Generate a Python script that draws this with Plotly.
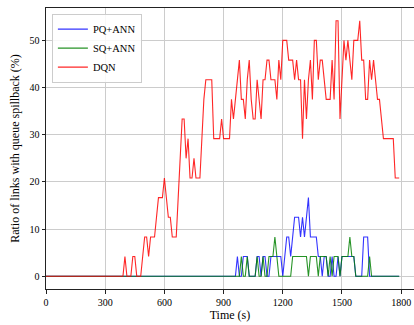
import plotly.graph_objects as go

# time grid (s)
time_s = list(range(0, 1800, 10))

# Ratio of links with queue spillback (%)
dqn = [0.0] * 40 + [
    4.17, 0, 0, 0, 4.17, 4.17, 0, 0, 0, 4.17,                       # 400-490
    8.33, 8.33, 4.17, 8.33, 8.33, 8.33, 12.5, 16.67, 16.67, 16.67,   # 500-590
    20.83, 16.67, 12.5, 12.5, 8.33, 8.33, 8.33, 16.67, 25, 33.33,    # 600-690
    33.33, 25, 29.17, 20.83, 20.83, 25, 20.83, 20.83, 20.83, 29.17,  # 700-790
    37.5, 41.67, 41.67, 41.67, 41.67, 29.17, 29.17, 29.17, 29.17, 33.33,  # 800-890
    29.17, 29.17, 29.17, 29.17, 37.5, 33.33, 37.5, 41.67, 45.83, 37.5,    # 900-990
    37.5, 33.33, 41.67, 45.83, 37.5, 33.33, 33.33, 41.67, 37.5, 33.33,    # 1000-1090
    41.67, 41.67, 45.83, 45.83, 41.67, 41.67, 41.67, 37.5, 45.83, 41.67,  # 1100-1190
    50, 50, 50, 45.83, 45.83, 45.83, 41.67, 45.83, 41.67, 41.67,          # 1200-1290
    29.17, 41.67, 33.33, 41.67, 45.83, 37.5, 50, 50, 41.67, 45.83,        # 1300-1390
    45.83, 41.67, 37.5, 37.5, 37.5, 45.83, 37.5, 54.17, 54.17, 33.33,     # 1400-1490
    41.67, 50, 45.83, 50, 45.83, 41.67, 50, 50, 50, 54.17,                # 1500-1590
    45.83, 45.83, 37.5, 37.5, 45.83, 41.67, 45.83, 41.67, 37.5, 37.5,     # 1600-1690
    33.33, 29.17, 29.17, 29.17, 29.17, 29.17, 29.17, 20.83, 20.83, 20.83, # 1700-1790
]

pq_ann = [0.0] * 90 + [
    0, 0, 0, 0, 0, 0, 0, 4.17, 0, 0,                        # 900-990
    4.17, 4.17, 4.17, 0, 0, 0, 0, 4.17, 4.17, 0,            # 1000-1090
    4.17, 4.17, 0, 0, 4.17, 4.17, 4.17, 4.17, 4.17, 4.17,   # 1100-1190
    0, 4.17, 8.33, 8.33, 4.17, 8.33, 12.5, 12.5, 12.5, 8.33, # 1200-1290
    12.5, 8.33, 12.5, 16.67, 8.33, 8.33, 8.33, 8.33, 4.17, 4.17,  # 1300-1390
    0, 4.17, 4.17, 0, 0, 4.17, 0, 0, 4.17, 0,               # 1400-1490
    4.17, 4.17, 4.17, 4.17, 4.17, 4.17, 4.17, 0, 0, 0,      # 1500-1590
    0, 8.33, 8.33, 8.33, 0, 0, 0, 0, 0, 0,                  # 1600-1690
    0, 0, 0, 0, 0, 0, 0, 0, 0, 0,                           # 1700-1790
]

sq_ann = [0.0] * 90 + [
    0, 0, 0, 0, 0, 0, 0, 0, 0, 4.17,                        # 900-990
    0, 0, 4.17, 0, 0, 0, 0, 4.17, 0, 0,                     # 1000-1090
    4.17, 0, 0, 4.17, 4.17, 4.17, 8.33, 4.17, 0, 0,         # 1100-1190
    0, 0, 0, 0, 0, 4.17, 4.17, 4.17, 4.17, 4.17,            # 1200-1290
    4.17, 4.17, 4.17, 0, 4.17, 4.17, 4.17, 4.17, 0, 4.17,   # 1300-1390
    4.17, 4.17, 4.17, 0, 4.17, 0, 4.17, 4.17, 4.17, 0,      # 1400-1490
    4.17, 4.17, 4.17, 4.17, 8.33, 4.17, 4.17, 0, 0, 0,      # 1500-1590
    0, 0, 0, 0, 4.17, 0, 0, 0, 0, 0,                        # 1600-1690
    0, 0, 0, 0, 0, 0, 0, 0, 0, 0,                           # 1700-1790
]

x_ticks = [0, 300, 600, 900, 1200, 1500, 1800]
y_ticks = [0, 10, 20, 30, 40, 50]

FONT = "Liberation Serif"

fig = go.Figure()
fig.add_trace(go.Scatter(x=time_s, y=pq_ann, mode="lines", name="PQ+ANN",
                         line=dict(color="rgba(0,0,255,0.8)", width=1.1)))
fig.add_trace(go.Scatter(x=time_s, y=sq_ann, mode="lines", name="SQ+ANN",
                         line=dict(color="rgba(0,128,0,0.85)", width=1.1)))
fig.add_trace(go.Scatter(x=time_s, y=dqn, mode="lines", name="DQN",
                         line=dict(color="rgba(255,0,0,0.85)", width=1.1)))

axis_common = dict(
    showline=True, linecolor="#222222", linewidth=1, mirror=True,
    ticks="outside", ticklen=3.5, tickwidth=1, tickcolor="#222222",
    showgrid=True, gridcolor="#cccccc", gridwidth=1, zeroline=False,
    tickfont=dict(family=FONT, size=10, color="#000000"),
    automargin=False,
)

fig.update_layout(
    width=414, height=325,
    margin=dict(l=46, r=0, t=8, b=36),
    paper_bgcolor="white", plot_bgcolor="white",
    font=dict(family=FONT, color="#000000"),
    xaxis=dict(range=[0, 1865], tickvals=x_ticks,
               title=dict(text="Time (s)", font=dict(family=FONT, size=12), standoff=4),
               **axis_common),
    yaxis=dict(range=[-2.708, 56.875], tickvals=y_ticks,
               title=dict(text="Ratio of links with queue spillback (%)",
                          font=dict(family=FONT, size=12), standoff=7),
               **axis_common),
    legend=dict(x=0.016, y=0.98, xanchor="left", yanchor="top",
                bgcolor="rgba(255,255,255,0.85)", bordercolor="#cccccc", borderwidth=1,
                font=dict(family=FONT, size=10.5), tracegroupgap=0,
                itemwidth=30),
    showlegend=True,
)

fig.write_html("out.html",
               config={"displayModeBar": False},
               post_script="document.body.style.margin='0';document.body.style.overflow='hidden';")
